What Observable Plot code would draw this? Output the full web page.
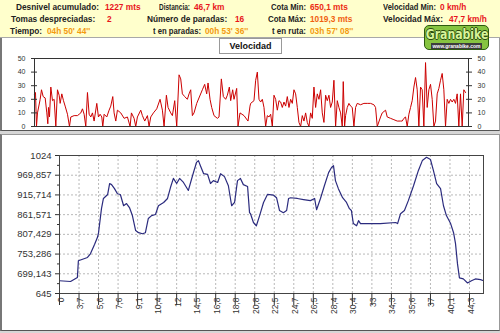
<!DOCTYPE html>
<html><head><meta charset="utf-8">
<script src="https://cdn.jsdelivr.net/npm/d3@7"></script>
<script src="https://cdn.jsdelivr.net/npm/@observablehq/plot@0.6"></script>
<style>
body{margin:0;width:500px;height:333px;position:relative;overflow:hidden;background:#d6d6d6;font-family:"Liberation Sans",Arial,sans-serif;}
#hdr{position:absolute;left:0;top:0;width:500px;height:37px;background:#FFFFCC;border-bottom:1px solid #a8a8a8;}
.t{position:absolute;font-weight:bold;font-size:8.3px;line-height:10px;white-space:nowrap;color:#222;transform-origin:0 50%;}
#vpanel{position:absolute;left:0;top:38px;width:497px;height:92px;background:#fff;border-left:2px solid #777;border-right:1px solid #999;border-bottom:1px solid #555;}
#epanel{position:absolute;left:0;top:134px;width:497px;height:195px;background:#fff;border-left:2px solid #777;border-right:1px solid #999;border-top:1px solid #999;border-bottom:1px solid #555;}
#tab{position:absolute;left:219px;top:38px;width:61px;height:14px;border:1px solid #999;background:#fff;font-weight:bold;font-size:9px;line-height:14px;text-align:center;color:#111;}
.chart{position:absolute;left:0;}
#logo{position:absolute;left:424px;top:25px;width:63px;height:23px;background:#86c440;border:1px solid #2d5a10;border-radius:5px;overflow:hidden;}
#logo .gb{position:absolute;left:-8px;top:-1px;width:79px;text-align:center;font-family:"DejaVu Sans",sans-serif;font-weight:bold;font-size:14px;line-height:18px;color:#d6f59a;transform:scaleX(0.78);transform-origin:50% 50%;text-shadow:-1px 0 #2d4a10,1px 0 #2d4a10,0 -1px #2d4a10,0 1px #2d4a10;}
#logo .www{position:absolute;left:6px;top:17px;width:51px;height:6px;background:#3d3d3d;color:#fff;font-size:5px;line-height:6px;text-align:center;font-weight:bold;}
</style></head><body>
<div id="hdr"></div>
<div id="vpanel"></div>
<div id="epanel"></div>
<div id="tab">Velocidad</div>
<div id="logo"><div class="gb">Granabike</div><div class="www">www.granabike.com</div></div>
<script>
// ---- header statistics ----
const statLabels = ["Desnivel acumulado:", "Distancia:", "Cota Min:", "Velocidad Min:",
  "Tomas despreciadas:", "Número de paradas:", "Cota Máx:", "Velocidad Máx:",
  "Tiempo:", "t en paradas:", "t en ruta:"];
const statValues = ["1227 mts", "46,7 km", "650,1 mts", "0 km/h",
  "2", "16", "1019,3 mts", "47,7 km/h",
  "04h 50' 44''", "00h 53' 36''", "03h 57' 08''"];
const statColors = ["#e8141b", "#e8141b", "#ec2a12", "#e8141b",
  "#e8141b", "#e8141b", "#f06010", "#e8141b",
  "#f39a10", "#f39a10", "#f39a10"];

// ---- velocity series (track sample index, km/h) ----
const velPos = [0,3,6,9,17,21,26,32,37,40,42,45,49,54,59,64,69,74,77,82,87,92,99,105,109,119,129,134,139,144,149,154,159,164,169,174,179,187,192,197,202,205,209,217,224,229,235,239,244,249,259,269,279,287,291,299,304,309,319,324,331,339,344,349,357,367,377,384,389,396,401,409,414,421,427,434,439,444,451,459,464,469,474,479,487,504,511,517,521,527,532,539,549,554,561,567,574,579,585,589,595,599,607,611,617,629,641,647,
649,659,664,669,674,679,684,689,694,699,704,709,714,719,724,729,734,739,744,749,754,759,764,769,774,779,784,789,794,799,804,809,814,819,824,829,834,839,844,849,854,859,864,869,874,879,884,889,894,899,904,909,914,919,924,927,931,934,939,944,949,954,959,964,969,979,989,999,1009,1019,1024,1029,1039,1044,1054,1059,1069,1079,1089,1099,1104,1109,1114,1119,1124,1129,1134,1139,1144,1149,1154,1159,1164,1169,1174,1179,1184,1189,1194,1199,1204,1209,1214,1219,1224,1229,1234,1239,1244,1249,1254,1259,1264,1269,1274,1279,1284,1289,1294];
const velVals = [24,25,0,10,20,27,22,21,10,2,14,7,29,19,20,0,27,23,17,24,19,15,9,0,7,8,8,9,10,13,9,0,25,9,7,10,4,17,7,9,7,0,9,7,12,15,22,10,4,12,10,6,7,0,10,6,0,7,12,8,4,8,0,7,10,13,20,12,0,23,14,10,8,19,0,38,35,24,22,20,24,27,8,10,17,27,31,24,32,20,14,8,6,7,35,22,20,23,29,19,27,20,28,0,10,8,4,15,
17,19,34,40,20,18,20,14,0,8,7,9,0,23,20,12,19,18,14,18,15,22,14,20,17,27,24,14,3,0,8,4,10,3,0,10,6,29,14,24,20,27,10,3,23,19,23,14,18,34,0,19,14,10,0,33,0,8,14,17,15,14,0,14,17,16,17,17,17,16,14,0,7,10,12,7,6,5,4,4,4,6,7,0,9,14,19,29,36,27,0,29,27,0,47,14,27,31,20,0,4,24,28,34,39,27,0,20,17,20,18,20,17,24,0,24,0,27,25];
const velTicks = [0, 10, 20, 30, 40, 50];

// ---- elevation series (track sample index, m) ----
const elevPos = [0,34,55,58,86,95,108,117,120,129,135,148,154,160,169,178,187,197,206,215,224,234,243,255,264,273,283,295,304,320,332,341,350,360,369,381,396,409,421,427,433,443,455,464,473,486,495,507,519,529,538,547,556,565,578,584,587,596,605,615,627,639,658,667,676,688,698,704,710,731,750,771,784,790,802,814,827,836,842,848,857,870,882,891,897,903,913,919,925,940,986,1033,1039,1048,1060,1072,1088,1103,1115,1128,1140,1149,1159,1171,1180,1189,1202,1211,1217,1223,1229,1241,1254,1266,1278,1294,1303];
const elevVals = [680,678,689,735,744,754,780,800,812,878,906,917,947,944,933,919,917,886,892,881,859,818,812,809,812,851,859,862,886,895,906,936,961,947,961,950,928,969,1005,1010,996,974,972,947,955,950,974,966,941,886,895,955,961,944,939,867,864,840,831,859,895,917,915,908,873,867,873,906,908,906,903,900,906,875,906,941,977,991,996,955,933,908,895,878,873,837,831,845,837,837,837,840,837,864,873,900,941,983,1010,1019,1013,983,947,933,886,859,837,812,782,727,688,685,674,680,685,683,680];
const kmLabels = ["0","3,7","5,6","7,6","9,1","10,4","12","14,5","16,8","18,8","20,8","22,5","24,7","26,5","28,4","30,4","33","34,3","35,6","37","40,1","44,3"];
const elevTickLabels = ["645","699,143","753,286","807,429","861,571","915,714","969,857","1024"];
const trackSamples = 1303;
const labelEvery = 60;

// ---- header layout ----
const labelLeft = [16,159,271,383, 11,147,268,383, 10,153,272];
const valueLeft = [105,194,310,440, 107,235,310,449, 47,205,310];
const rowTop = [2,2,2,2, 14,14,14,14, 26,26,26];
const hdr = document.getElementById("hdr");
statLabels.forEach((l, i) => {
  const a = document.createElement("span");
  a.className = "t"; a.textContent = l;
  a.style.left = labelLeft[i] + "px"; a.style.top = rowTop[i] + "px";
  hdr.appendChild(a);
  const w = a.getBoundingClientRect().width;
  const target = valueLeft[i] - labelLeft[i] - 4;
  if (w > target) a.style.transform = `scaleX(${target / w})`;
  const b = document.createElement("span");
  b.className = "t"; b.textContent = statValues[i];
  b.style.left = valueLeft[i] + "px"; b.style.top = rowTop[i] + "px"; b.style.color = statColors[i];
  hdr.appendChild(b);
});

const font = "'Liberation Sans', Arial, sans-serif";

// ---- velocity chart ----
const velData = velPos.map((s, i) => ({s, v: velVals[i]}));
const vel = Plot.plot({
  width: 500, height: 93,
  marginTop: 20, marginBottom: 5, marginLeft: 34, marginRight: 32,
  x: {domain: [0, trackSamples], axis: null},
  y: {domain: [0, 50], label: null},
  style: {fontFamily: font, background: "transparent", color: "#333", overflow: "visible"},
  marks: [
    Plot.line(velData, {x: "s", y: "v", stroke: "#cc0000", strokeWidth: 1}),
    Plot.frame({stroke: "#333"}),
    Plot.axisY({anchor: "left", ticks: velTicks, tickSize: 6, dx: 3, tickPadding: 6, fontSize: 7, label: null, tickFormat: d => String(d)}),
    Plot.axisY({anchor: "right", ticks: velTicks, tickSize: 6, dx: -3, tickPadding: 6, fontSize: 7, label: null, tickFormat: d => String(d)})
  ]
});
vel.classList.add("chart");
vel.style.top = "38px";
document.body.appendChild(vel);

// ---- elevation chart ----
const elevData = elevPos.map((s, i) => ({s, e: elevVals[i]}));
const xTickPos = kmLabels.map((_, i) => i * labelEvery);
const yStep = (1024 - 645) / (elevTickLabels.length - 1);
const yTickPos = elevTickLabels.map((_, i) => 645 + i * yStep);
const yMinor = yTickPos.slice(0, -1).map((d, i) => (d + yTickPos[i + 1]) / 2);
const grid = {stroke: "#b8b8b8", strokeOpacity: 1, strokeDasharray: "2,2"};
const elev = Plot.plot({
  width: 500, height: 196,
  marginTop: 21, marginBottom: 37, marginLeft: 59, marginRight: 17,
  x: {domain: [0, trackSamples], label: null},
  y: {domain: [645, 1024], label: null},
  style: {fontFamily: font, background: "transparent", color: "#333", overflow: "visible"},
  marks: [
    Plot.gridX(xTickPos.slice(1), grid),
    Plot.gridY(yTickPos.slice(1, -1), grid),
    Plot.line(elevData, {x: "s", y: "e", stroke: "#2b2b7e", strokeWidth: 1.2}),
    Plot.frame({stroke: "#444"}),
    Plot.axisY({ticks: yTickPos, tickSize: 4, tickPadding: 4, fontSize: 9.5, label: null,
      tickFormat: d => elevTickLabels[Math.round((d - 645) / yStep)]}),
    Plot.axisY({ticks: yMinor, tickSize: 2, label: null, tickFormat: () => ""}),
    Plot.axisX({ticks: xTickPos, tickSize: 12, label: null, tickFormat: () => ""}),
    Plot.text(kmLabels, {x: (d, i) => xTickPos[i], text: d => d, frameAnchor: "bottom",
      rotate: -90, textAnchor: "end", dx: 4, dy: 4, fontSize: 8.5, fill: "#333"})
  ]
});
elev.classList.add("chart");
elev.style.top = "134px";
document.body.appendChild(elev);
</script>
</body></html>
